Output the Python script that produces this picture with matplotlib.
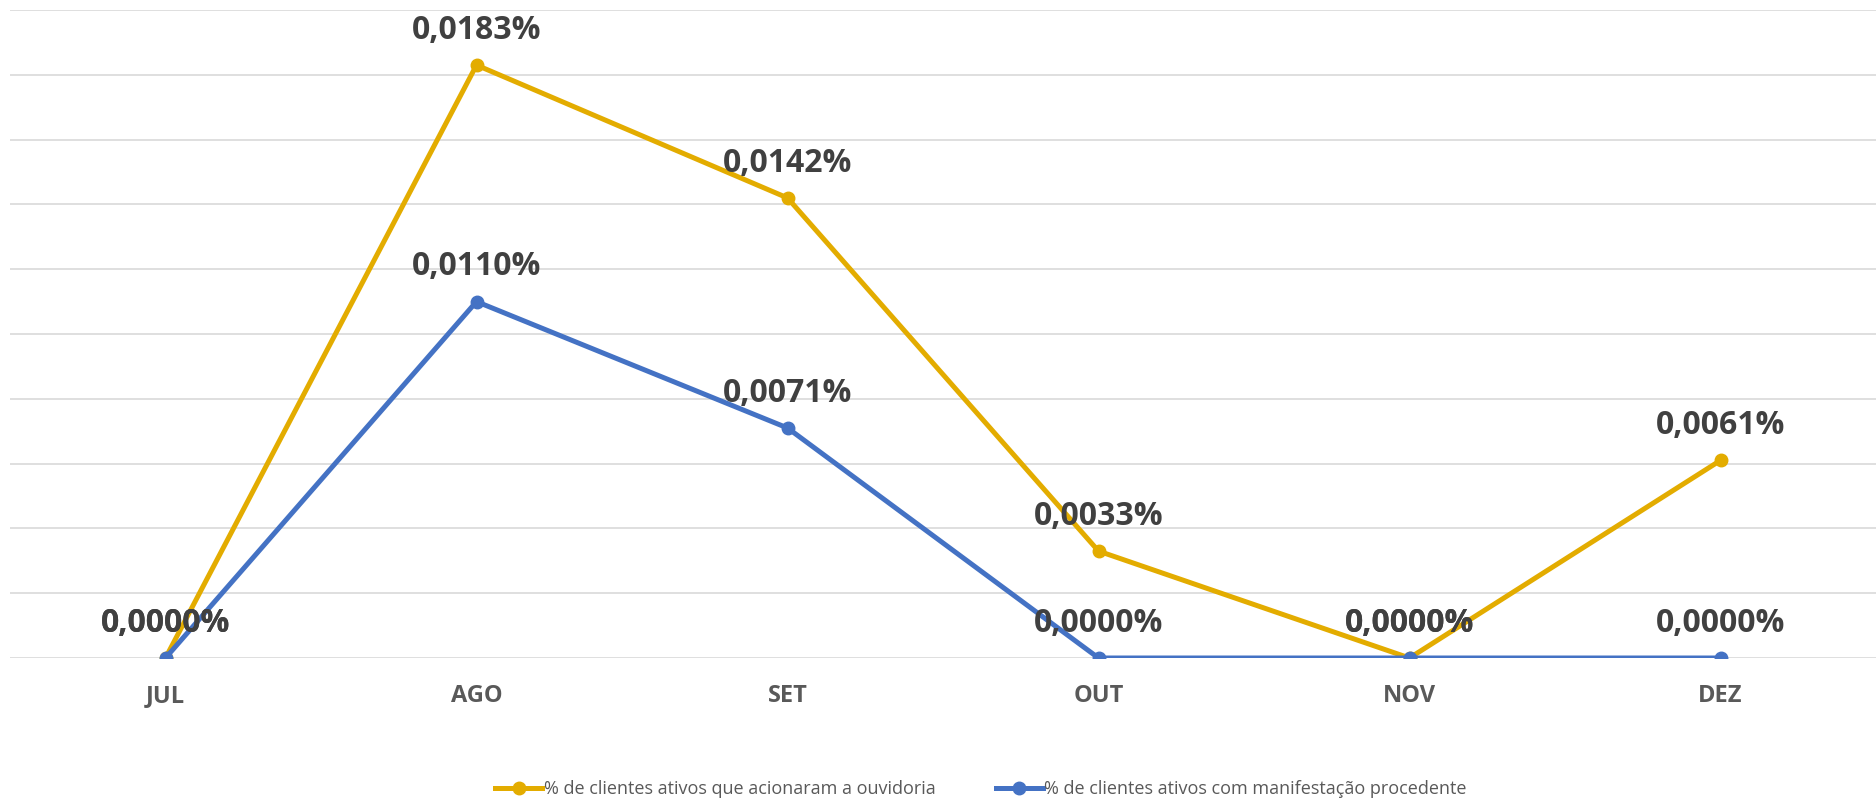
import matplotlib.pyplot as plt
from matplotlib.lines import Line2D

months = ["JUL", "AGO", "SET", "OUT", "NOV", "DEZ"]
ouvidoria = [0.0000, 0.0183, 0.0142, 0.0033, 0.0000, 0.0061]
procedente = [0.0000, 0.0110, 0.0071, 0.0000, 0.0000, 0.0000]
series_names = ["% de clientes ativos que acionaram a ouvidoria",
                "% de clientes ativos com manifestação procedente"]

GOLD = "#E3AC00"
BLUE = "#4472C4"
GRID = "#D9D9D9"
LABEL = "#404040"
TICK = "#595959"
FONT = ["Open Sans", "DejaVu Sans"]

fig = plt.figure(figsize=(18.76, 7.99), dpi=100)
ax = fig.add_axes([10 / 1876, 1 - 658 / 799, 1 - 10 / 1876, 648 / 799])

x = list(range(len(months)))
for vals, col in [(ouvidoria, GOLD), (procedente, BLUE)]:
    ax.plot(x, vals, color=col, lw=3.6, marker="o", ms=9, zorder=3,
            solid_capstyle="round")
    for xi, v in zip(x, vals):
        ax.annotate(f"{v:.4f}%".replace(".", ","), (xi, v), xytext=(0, 25),
                    textcoords="offset points", ha="center", va="center",
                    fontsize=23, fontweight="bold", color=LABEL, family=FONT,
                    zorder=4)

ax.set_xlim(-0.5, len(months) - 0.5)
ax.set_ylim(0, 0.02)
ax.set_yticks([i * 0.002 for i in range(11)])
ax.yaxis.grid(True, color=GRID, lw=1.2)
ax.set_axisbelow(True)
ax.tick_params(axis="y", left=False, labelleft=False)
ax.tick_params(axis="x", length=0, pad=19)
ax.set_xticks(x)
ax.set_xticklabels(months, fontsize=17, fontweight="bold", color=TICK,
                   family=FONT)
for s in ax.spines.values():
    s.set_visible(False)

handles = [Line2D([], [], color=GOLD, lw=3.6, marker="o", ms=9),
           Line2D([], [], color=BLUE, lw=3.6, marker="o", ms=9)]
fig.legend(handles, series_names, loc="center", bbox_to_anchor=(0.523, 0.012),
           ncol=2, frameon=False, handlelength=2.6, handletextpad=0.1,
           columnspacing=3.3, prop={"family": FONT, "size": 13},
           labelcolor=TICK)

fig.savefig("out.png", dpi=100)
